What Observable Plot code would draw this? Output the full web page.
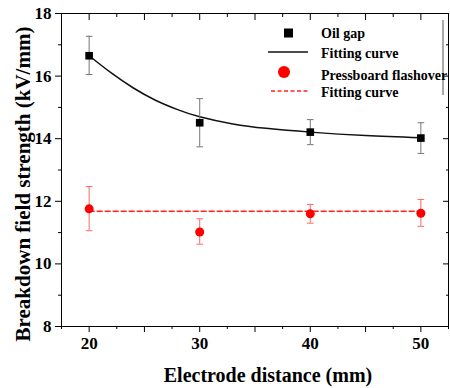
<!DOCTYPE html>
<html><head><meta charset="utf-8">
<script src="https://cdn.jsdelivr.net/npm/d3@7"></script>
<script src="https://cdn.jsdelivr.net/npm/@observablehq/plot@0.6"></script>
<style>
html,body{margin:0;padding:0;background:#fff;}
#chart{position:relative;width:450px;height:388px;}
</style>
</head><body>
<div id="chart"></div>
<script>
// Data
const distances = [20, 30, 40, 50];
const oilGap = [16.65, 14.51, 14.21, 14.02];
const oilLow = [16.05, 13.74, 13.81, 13.53];
const oilHigh = [17.27, 15.28, 14.61, 14.51];
const pbFlash = [11.76, 11.02, 11.60, 11.62];
const pbLow = [11.06, 10.63, 11.30, 11.20];
const pbHigh = [12.47, 11.44, 11.90, 12.06];
const oilFitX = [20, 22, 24, 26, 28, 30, 33, 36, 40, 45, 50];
const oilFitY = [16.65, 16.10, 15.62, 15.23, 14.93, 14.70, 14.47, 14.33, 14.21, 14.10, 14.03];
const pbFitX = [20, 50];
const pbFitY = [11.68, 11.68];
const xTicks = [20, 30, 40, 50];
const xMidTicks = [25, 35, 45];
const xMinorTicks = [17.5, 22.5, 27.5, 32.5, 37.5, 42.5, 47.5, 52.5];
const yTicks = [8, 10, 12, 14, 16, 18];
const yMinorTicks = [9, 11, 13, 15, 17];
const legendLabels = ["Oil gap", "Fitting curve", "Pressboard flashover", "Fitting curve"];

const oil = distances.map((x, i) => ({x, y: oilGap[i], lo: oilLow[i], hi: oilHigh[i]}));
const pb = distances.map((x, i) => ({x, y: pbFlash[i], lo: pbLow[i], hi: pbHigh[i]}));
const oilFit = oilFitX.map((x, i) => ({x, y: oilFitY[i]}));
const pbFit = pbFitX.map((x, i) => ({x, y: pbFitY[i]}));

const capW = 0.3;
const SERIF = "Liberation Serif, Times New Roman, serif";

const plot = Plot.plot({
  width: 450,
  height: 388,
  marginLeft: 61,
  marginRight: 2,
  marginTop: 13,
  marginBottom: 62,
  style: {background: "#fff", overflow: "visible", fontFamily: SERIF},
  x: {domain: [17.5, 52.5]},
  y: {domain: [8, 18]},
  marks: [
    Plot.frame({stroke: "#000", strokeWidth: 1}),
    Plot.axisX({anchor: "bottom", ticks: xTicks, tickSize: 6, tickPadding: 4, fontSize: 17, fontWeight: "bold", label: null}),
    Plot.axisX({anchor: "bottom", ticks: xMidTicks, tickSize: 6, text: null, label: null}),
    Plot.axisX({anchor: "bottom", ticks: xMinorTicks, tickSize: 3, text: null, label: null}),
    Plot.axisX({anchor: "top", ticks: xTicks.concat(xMidTicks), tickSize: -6, text: null, label: null}),
    Plot.axisX({anchor: "top", ticks: xMinorTicks, tickSize: -3, text: null, label: null}),
    Plot.axisY({anchor: "left", ticks: yTicks, tickSize: 6, tickPadding: 4, fontSize: 17, fontWeight: "bold", label: null}),
    Plot.axisY({anchor: "left", ticks: yMinorTicks, tickSize: 3, text: null, label: null}),
    Plot.axisY({anchor: "right", ticks: yTicks, tickSize: -6, text: null, label: null}),
    Plot.axisY({anchor: "right", ticks: yMinorTicks, tickSize: -3, text: null, label: null}),
    Plot.line(oilFit, {x: "x", y: "y", stroke: "#111", strokeWidth: 1.5, curve: "natural"}),
    Plot.line(pbFit, {x: "x", y: "y", stroke: "#f22", strokeWidth: 1.5, strokeDasharray: "5,3"}),
    Plot.ruleX(oil, {x: "x", y1: "lo", y2: "hi", stroke: "#777", strokeWidth: 1}),
    Plot.link(oil, {x1: d => d.x - capW, x2: d => d.x + capW, y1: "lo", y2: "lo", stroke: "#777"}),
    Plot.link(oil, {x1: d => d.x - capW, x2: d => d.x + capW, y1: "hi", y2: "hi", stroke: "#777"}),
    Plot.ruleX(pb, {x: "x", y1: "lo", y2: "hi", stroke: "#f66", strokeWidth: 1}),
    Plot.link(pb, {x1: d => d.x - capW, x2: d => d.x + capW, y1: "lo", y2: "lo", stroke: "#f66"}),
    Plot.link(pb, {x1: d => d.x - capW, x2: d => d.x + capW, y1: "hi", y2: "hi", stroke: "#f66"}),
    Plot.dot(oil, {x: "x", y: "y", symbol: "square", r: 4.3, fill: "#000"}),
    Plot.dot(pb, {x: "x", y: "y", symbol: "circle", r: 4.5, fill: "#f00"})
  ]
});

document.getElementById("chart").appendChild(plot);

const svg = d3.select(plot);
svg.append("text")
  .attr("transform", "translate(23,184) rotate(-90)")
  .attr("text-anchor", "middle").attr("dominant-baseline", "central")
  .attr("font-size", 21).attr("font-weight", "bold").attr("fill", "#000")
  .text("Breakdown field strength (kV/mm)");
svg.append("text")
  .attr("x", 268).attr("y", 375)
  .attr("text-anchor", "middle").attr("dominant-baseline", "central")
  .attr("font-size", 20).attr("font-weight", "bold").attr("fill", "#000")
  .text("Electrode distance (mm)");

const lg = svg.append("g").attr("font-size", 14).attr("font-weight", "bold").attr("fill", "#000").attr("text-anchor", "start");
lg.append("rect").attr("x", 284).attr("y", 28.5).attr("width", 9).attr("height", 9).attr("fill", "#000");
lg.append("line").attr("x1", 268).attr("x2", 308).attr("y1", 52).attr("y2", 52).attr("stroke", "#111").attr("stroke-width", 1.3);
lg.append("circle").attr("cx", 284).attr("cy", 72).attr("r", 6).attr("fill", "#f00");
lg.append("line").attr("x1", 271).attr("x2", 310).attr("y1", 91).attr("y2", 91).attr("stroke", "#f22").attr("stroke-width", 1.5).attr("stroke-dasharray", "4,2.5");
lg.append("line").attr("x1", 443).attr("x2", 443).attr("y1", 20).attr("y2", 95).attr("stroke", "#555").attr("stroke-width", 1);
const legendY = [33, 53, 75, 92];
legendLabels.forEach((t, i) => {
  lg.append("text").attr("x", 321).attr("y", legendY[i]).attr("dominant-baseline", "central").attr("text-anchor", "start").text(t);
});
svg.selectAll("text").attr("font-family", SERIF).style("font-family", SERIF);
</script>
</body></html>
